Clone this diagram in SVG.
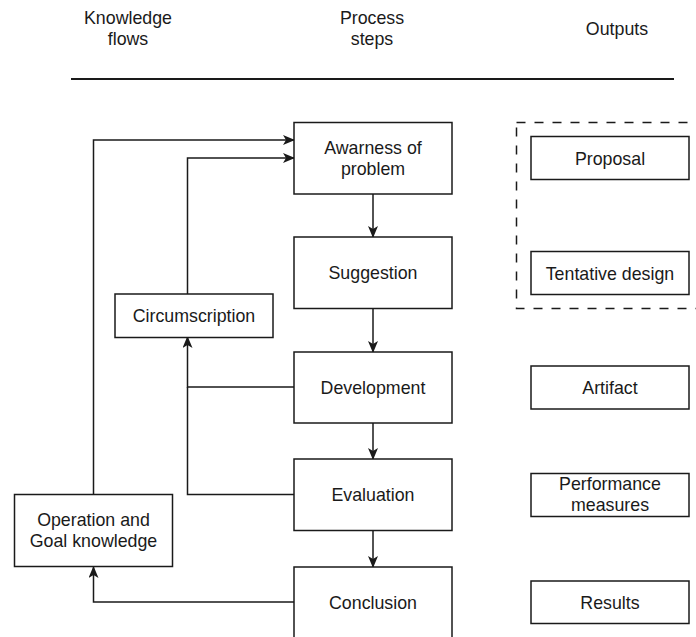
<svg xmlns="http://www.w3.org/2000/svg" width="696" height="637" viewBox="0 0 696 637">
  <defs>
    <style>
      .box { fill: #ffffff; stroke: #1a1a1a; stroke-width: 1.5; }
      .dash { fill: none; stroke: #1a1a1a; stroke-width: 1.5; stroke-dasharray: 9 9; }
      .edge { fill: none; stroke: #1a1a1a; stroke-width: 1.5; }
      .lbl { font-family: "Liberation Sans", Arial, sans-serif; font-size: 17.8px; fill: #1a1a1a; text-anchor: middle; }
    </style>
    <marker id="arrow" viewBox="0 0 12 10" refX="11" refY="5" markerWidth="12" markerHeight="10" markerUnits="userSpaceOnUse" orient="auto">
      <path d="M0,0 L12,5 L0,10 L3,5 Z" fill="#1a1a1a"/>
    </marker>
  </defs>
  <rect width="696" height="637" fill="#ffffff"/>

  <!-- column headings -->
  <g id="headings">
    <text class="lbl" x="128" y="24">Knowledge</text>
    <text class="lbl" x="128" y="45">flows</text>
    <text class="lbl" x="372" y="24">Process</text>
    <text class="lbl" x="372" y="45">steps</text>
    <text class="lbl" x="617" y="35">Outputs</text>
    <line x1="71" y1="79" x2="674" y2="79" stroke="#1a1a1a" stroke-width="1.8"/>
  </g>

  <!-- connectors -->
  <g id="connectors">
    <polyline class="edge" points="373,194 373,237" marker-end="url(#arrow)"/>
    <polyline class="edge" points="373,308 373,352" marker-end="url(#arrow)"/>
    <polyline class="edge" points="373,423 373,459" marker-end="url(#arrow)"/>
    <polyline class="edge" points="373,530 373,567" marker-end="url(#arrow)"/>
    <polyline class="edge" points="93.5,494 93.5,140 294,140" marker-end="url(#arrow)"/>
    <polyline class="edge" points="187.5,294 187.5,158 294,158" marker-end="url(#arrow)"/>
    <polyline class="edge" points="294,387 187.5,387 187.5,337" marker-end="url(#arrow)"/>
    <polyline class="edge" points="294,494.5 187.5,494.5 187.5,387"/>
    <polyline class="edge" points="294,602 93.5,602 93.5,567" marker-end="url(#arrow)"/>
  </g>

  <!-- process steps -->
  <g id="awareness">
    <rect class="box" x="294" y="122.5" width="158" height="71.5"/>
    <text class="lbl" x="373" y="153.5">Awarness of</text>
    <text class="lbl" x="373" y="174.5">problem</text>
  </g>
  <g id="suggestion">
    <rect class="box" x="294" y="237" width="158" height="71.5"/>
    <text class="lbl" x="373" y="279">Suggestion</text>
  </g>
  <g id="development">
    <rect class="box" x="294" y="352" width="158" height="71"/>
    <text class="lbl" x="373" y="394">Development</text>
  </g>
  <g id="evaluation">
    <rect class="box" x="294" y="459" width="158" height="71.5"/>
    <text class="lbl" x="373" y="501">Evaluation</text>
  </g>
  <g id="conclusion">
    <rect class="box" x="294" y="567" width="158" height="72"/>
    <text class="lbl" x="373" y="608.5">Conclusion</text>
  </g>

  <!-- knowledge flows -->
  <g id="circumscription">
    <rect class="box" x="115" y="294" width="158" height="43.5"/>
    <text class="lbl" x="194" y="322">Circumscription</text>
  </g>
  <g id="operation-goal">
    <rect class="box" x="14.5" y="494.5" width="158" height="72"/>
    <text class="lbl" x="93.5" y="525.5">Operation and</text>
    <text class="lbl" x="93.5" y="546.5">Goal knowledge</text>
  </g>

  <!-- outputs -->
  <g id="design-group">
    <rect class="dash" x="516.5" y="122.5" width="190" height="186"/>
  </g>
  <g id="proposal">
    <rect class="box" x="531" y="136.5" width="158" height="43"/>
    <text class="lbl" x="610" y="164.5">Proposal</text>
  </g>
  <g id="tentative-design">
    <rect class="box" x="531" y="251.5" width="158" height="43"/>
    <text class="lbl" x="610" y="279.5">Tentative design</text>
  </g>
  <g id="artifact">
    <rect class="box" x="531" y="366" width="158" height="43"/>
    <text class="lbl" x="610" y="394">Artifact</text>
  </g>
  <g id="performance-measures">
    <rect class="box" x="531" y="473.5" width="158" height="43"/>
    <text class="lbl" x="610" y="490">Performance</text>
    <text class="lbl" x="610" y="511">measures</text>
  </g>
  <g id="results">
    <rect class="box" x="531" y="581" width="158" height="42.5"/>
    <text class="lbl" x="610" y="608.5">Results</text>
  </g>
</svg>
